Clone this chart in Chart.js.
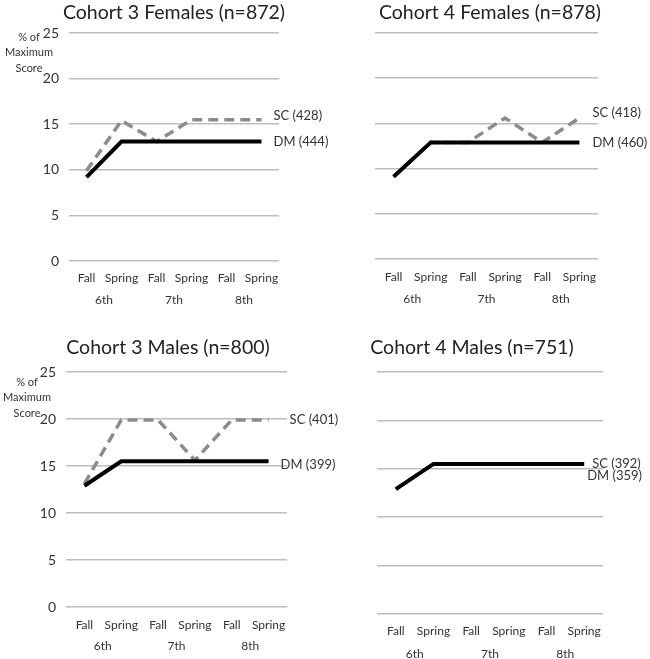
<!DOCTYPE html>
<html>
<head>
<meta charset="utf-8">
<script src="https://cdn.jsdelivr.net/npm/chart.js@4/dist/chart.umd.min.js"></script>
<style>
  body { margin: 0; background: #fff; }
  .panel { position: absolute; }
</style>
</head>
<body>
<div class="panel" style="left:325px;top:0"><canvas id="c4f" width="325" height="330"></canvas></div>
<div class="panel" style="left:325px;top:330px"><canvas id="c4m" width="325" height="329"></canvas></div>
<div class="panel" style="left:0;top:0"><canvas id="c3f" width="350" height="330"></canvas></div>
<div class="panel" style="left:0;top:330px"><canvas id="c3m" width="350" height="329"></canvas></div>
<script>
// categories
var periods = ['Fall', 'Spring', 'Fall', 'Spring', 'Fall', 'Spring'];
var grades = ['6th', '7th', '8th'];
var yMin = 0, yMax = 25, yStep = 5;
var yTitleLines = ['% of', 'Maximum', 'Score'];

// series values (% of maximum score)
var c3fDM = [9.2, 13.1, 13.1, 13.1, 13.1, 13.1];
var c3fSC = [9.9, 15.4, 13.1, 15.5, 15.5, 15.5];
var c4fDM = [9.1, 12.9, 12.9, 12.9, 12.9, 12.9];
var c4fSC = [9.1, 12.9, 12.9, 15.6, 12.9, 15.6];
var c3mDM = [12.9, 15.5, 15.5, 15.5, 15.5, 15.5];
var c3mSC = [13.1, 19.9, 19.9, 15.6, 19.9, 19.9];
var c4mDM = [12.9, 15.5, 15.5, 15.5, 15.5, 15.5];
var c4mSC = [12.9, 15.5, 15.5, 15.5, 15.5, 15.5];

// titles and series labels
var titles = ['Cohort 3 Females (n=872)', 'Cohort 4 Females (n=878)', 'Cohort 3 Males (n=800)', 'Cohort 4 Males (n=751)'];
var dmLabels = ['DM (444)', 'DM (460)', 'DM (399)', 'DM (359)'];
var scLabels = ['SC (428)', 'SC (418)', 'SC (401)', 'SC (392)'];

var FONT = 'Lato, "Open Sans", sans-serif';
var TEXT = '#333';

// draws title, y caption and end-of-line labels
var decor = {
    id: 'decor',
    afterDatasetsDraw: function (chart) {
        var o = chart.options.plugins.decor;
        var ctx = chart.ctx;
        ctx.save();
        ctx.fillStyle = '#222';
        ctx.font = '19.5px ' + FONT;
        ctx.textAlign = 'center';
        ctx.textBaseline = 'middle';
        ctx.fillText(o.title, o.titleX, o.titleY);

        if (o.yTitle) {
            ctx.font = '11px ' + FONT;
            ctx.fillStyle = TEXT;
            yTitleLines.forEach(function (t, i) {
                ctx.fillText(t, o.yTitleX, o.yTitleY + i * 15.5);
            });
        }

        ctx.font = '13px ' + FONT;
        ctx.fillStyle = TEXT;
        ctx.textAlign = 'left';
        chart.data.datasets.forEach(function (ds, i) {
            var pts = chart.getDatasetMeta(i).data;
            var p = pts[pts.length - 1];
            var off = o.offsets[i];
            ctx.fillText(ds.label, p.x + off[0], p.y + off[1]);
        });
        ctx.restore();
    }
};

function makeChart(id, idx, dm, sc, area, rows, lay) {
    var H = document.getElementById(id).height;
    var W = document.getElementById(id).width;
    var p1 = rows[0] - area.bottom - 6;
    var xH = p1 + 16;
    var p2 = rows[1] - area.bottom - xH - 6;
    var x2H = Math.min(p2 + 16, H - area.bottom - xH);
    var padBottom = Math.max(0, H - area.bottom - xH - x2H);

    return new Chart(document.getElementById(id), {
        type: 'line',
        data: {
            labels: periods,
            datasets: [{
                label: dmLabels[idx],
                data: dm,
                borderColor: '#000',
                borderWidth: 4,
                pointRadius: 0,
                tension: 0,
                xAxisID: 'x'
            }, {
                label: scLabels[idx],
                data: sc,
                borderColor: '#8c8c8c',
                borderWidth: 3.5,
                borderDash: [10, 6],
                pointRadius: 0,
                tension: 0,
                xAxisID: 'x'
            }]
        },
        options: {
            responsive: false,
            animation: false,
            layout: { padding: { top: area.top, right: W - area.right, bottom: padBottom, left: 0 } },
            plugins: {
                legend: { display: false },
                tooltip: { enabled: false },
                decor: lay
            },
            scales: {
                x: {
                    type: 'category',
                    labels: periods,
                    offset: true,
                    grid: { display: false, drawTicks: false },
                    border: { display: false },
                    ticks: { color: TEXT, font: { family: FONT, size: 12 }, padding: p1, maxRotation: 0, autoSkip: false },
                    afterFit: function (s) { s.height = xH; }
                },
                x2: {
                    type: 'category',
                    labels: grades,
                    position: 'bottom',
                    offset: true,
                    grid: { display: false, drawTicks: false },
                    border: { display: false },
                    ticks: { color: TEXT, font: { family: FONT, size: 12 }, padding: p2, maxRotation: 0 },
                    afterFit: function (s) { s.height = x2H; }
                },
                y: {
                    min: yMin,
                    max: yMax,
                    grid: { color: '#bdbdbd', lineWidth: 1.5, drawTicks: false },
                    border: { display: false },
                    ticks: { display: lay.yTicks, stepSize: yStep, color: TEXT, font: { family: FONT, size: 14 }, padding: 10 },
                    afterFit: function (s) { s.width = area.left; }
                }
            }
        },
        plugins: [decor]
    });
}

makeChart('c3f', 0, c3fDM, c3fSC, { left: 69, top: 33, right: 279, bottom: 261 }, [277, 299],
    { title: titles[0], titleX: 174, titleY: 13, yTicks: true, yTitle: true, yTitleX: 29, yTitleY: 37, offsets: [[12, 0], [12, -4]] });
makeChart('c4f', 1, c4fDM, c4fSC, { left: 50, top: 33, right: 273, bottom: 259 }, [276, 298],
    { title: titles[1], titleX: 165, titleY: 13, yTicks: false, yTitle: false, offsets: [[13, 0], [13, -5]] });
makeChart('c3m', 2, c3mDM, c3mSC, { left: 66, top: 42, right: 287, bottom: 277 }, [294, 315],
    { title: titles[2], titleX: 168, titleY: 18, yTicks: true, yTitle: true, yTitleX: 27, yTitleY: 52, offsets: [[12, 4], [21, 0]] });
makeChart('c4m', 3, c4mDM, c4mSC, { left: 52, top: 42, right: 278, bottom: 284 }, [300, 323],
    { title: titles[3], titleX: 147, titleY: 18, yTicks: false, yTitle: false, offsets: [[3, 12], [8, 0]] });
</script>
</body>
</html>
